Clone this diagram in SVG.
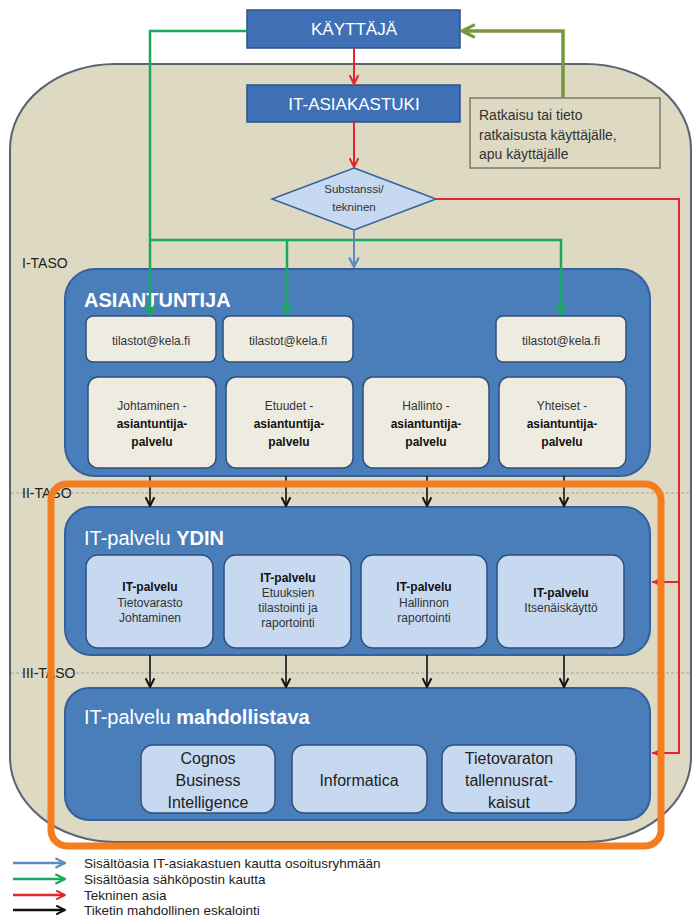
<svg xmlns="http://www.w3.org/2000/svg" width="693" height="917" viewBox="0 0 693 917">
<defs>
<style>
text{font-family:"Liberation Sans",Arial,sans-serif;}
.top{fill:#3f70b6;stroke:#2c5088;stroke-width:1.5;}
.toptxt{fill:#fff;font-size:17px;text-anchor:middle;}
.panel{fill:#4a7ebb;stroke:#35609a;stroke-width:2;}
.ptitle{fill:#fff;font-size:20px;}
.cream{fill:#eeece1;stroke:#2f4f7a;stroke-width:1.5;}
.lblue{fill:#c6d9f1;stroke:#2f4f7a;stroke-width:1.5;}
.t12{font-size:12px;fill:#333;text-anchor:middle;}
.b{font-weight:bold;fill:#111;}
.t16{font-size:16px;fill:#222;text-anchor:middle;}
.tier{font-size:14px;fill:#222;}
.dash{stroke:#a5a5a5;stroke-width:1;stroke-dasharray:3 2;}
.leg{font-size:13.5px;fill:#222;}
.red{stroke:#e3262b;stroke-width:2;fill:none;}
.grn{stroke:#1aa860;stroke-width:2.5;fill:none;}
.olv{stroke:#78963a;stroke-width:3.5;fill:none;}
.blu{stroke:#5d8ac0;stroke-width:2;fill:none;}
.blk{stroke:#111;stroke-width:1.6;fill:none;}
</style>
<marker id="mr" viewBox="0 0 10 10" refX="9" refY="5" markerWidth="11" markerHeight="11" markerUnits="userSpaceOnUse" orient="auto"><path d="M1,1 L9,5 L1,9" fill="none" stroke="#e3262b" stroke-width="1.8"/></marker>
<marker id="mrf" viewBox="0 0 10 10" refX="9" refY="5" markerWidth="10" markerHeight="10" markerUnits="userSpaceOnUse" orient="auto"><path d="M1,1 L9,5 L1,9 Z" fill="#e3262b"/></marker>
<marker id="mg" viewBox="0 0 10 10" refX="9" refY="5" markerWidth="12" markerHeight="12" markerUnits="userSpaceOnUse" orient="auto"><path d="M1,1 L9,5 L1,9" fill="none" stroke="#1aa860" stroke-width="2"/></marker>
<marker id="mo" viewBox="0 0 10 10" refX="9" refY="5" markerWidth="16" markerHeight="16" markerUnits="userSpaceOnUse" orient="auto"><path d="M1,1 L9,5 L1,9" fill="none" stroke="#78963a" stroke-width="2"/></marker>
<marker id="mb" viewBox="0 0 10 10" refX="9" refY="5" markerWidth="12" markerHeight="12" markerUnits="userSpaceOnUse" orient="auto"><path d="M1,1 L9,5 L1,9" fill="none" stroke="#5d8ac0" stroke-width="1.8"/></marker>
<marker id="mk" viewBox="0 0 10 10" refX="9" refY="5" markerWidth="11" markerHeight="11" markerUnits="userSpaceOnUse" orient="auto"><path d="M1,1 L9,5 L1,9" fill="none" stroke="#111" stroke-width="1.8"/></marker>
</defs>

<g id="container">
<rect x="10" y="64" width="681" height="778" rx="105" ry="85" fill="#ddd9c3" stroke="#5a6473" stroke-width="2"/>
<line class="dash" x1="11" y1="493" x2="690" y2="493"/>
<line class="dash" x1="11" y1="673" x2="690" y2="673"/>
<text class="tier" x="22" y="268">I-TASO</text>
<text class="tier" x="22" y="498">II-TASO</text>
<text class="tier" x="22" y="678">III-TASO</text>
</g>

<g id="kayttaja">
<rect class="top" x="247" y="10" width="213" height="38"/>
<text class="toptxt" x="354" y="35">KÄYTTÄJÄ</text>
</g>
<g id="it-asiakastuki">
<rect class="top" x="247" y="85" width="213" height="37"/>
<text class="toptxt" x="354" y="110">IT-ASIAKASTUKI</text>
</g>
<g id="ratkaisu">
<rect x="470" y="98" width="190" height="70" fill="#ddd9c3" stroke="#7f7a66" stroke-width="1.5"/>
<text x="479" y="120" font-size="14" fill="#333">Ratkaisu tai tieto</text>
<text x="479" y="140" font-size="14" fill="#333">ratkaisusta käyttäjälle,</text>
<text x="479" y="159" font-size="14" fill="#333">apu käyttäjälle</text>
</g>
<g id="diamond">
<polygon points="354,168 436,199 354,230 272,199" fill="#c6d9f1" stroke="#35609a" stroke-width="1.5"/>
<text x="354" y="193" font-size="11.5" fill="#333" text-anchor="middle">Substanssi/</text>
<text x="354" y="211" font-size="11.5" fill="#333" text-anchor="middle">tekninen</text>
</g>

<g id="asiantuntija">
<rect class="panel" x="65" y="269" width="585" height="207" rx="30"/>
<text class="ptitle" x="84" y="307" font-weight="bold">ASIANTUNTIJA</text>
<rect class="cream" x="86" y="316" width="130" height="46" rx="7"/>
<text class="t12" x="151" y="345" font-size="13">tilastot@kela.fi</text>
<rect class="cream" x="223" y="316" width="130" height="46" rx="7"/>
<text class="t12" x="288" y="345" font-size="13">tilastot@kela.fi</text>
<rect class="cream" x="496" y="316" width="130" height="46" rx="7"/>
<text class="t12" x="561" y="345" font-size="13">tilastot@kela.fi</text>
<rect class="cream" x="88" y="377" width="128" height="91" rx="10"/>
<text class="t12" x="152" y="410">Johtaminen -</text>
<text class="t12 b" x="152" y="428">asiantuntija-</text>
<text class="t12 b" x="152" y="446">palvelu</text>
<rect class="cream" x="226" y="377" width="127" height="91" rx="10"/>
<text class="t12" x="289" y="410">Etuudet -</text>
<text class="t12 b" x="289" y="428">asiantuntija-</text>
<text class="t12 b" x="289" y="446">palvelu</text>
<rect class="cream" x="363" y="377" width="126" height="91" rx="10"/>
<text class="t12" x="426" y="410">Hallinto -</text>
<text class="t12 b" x="426" y="428">asiantuntija-</text>
<text class="t12 b" x="426" y="446">palvelu</text>
<rect class="cream" x="499" y="377" width="127" height="91" rx="10"/>
<text class="t12" x="562" y="410">Yhteiset -</text>
<text class="t12 b" x="562" y="428">asiantuntija-</text>
<text class="t12 b" x="562" y="446">palvelu</text>
</g>

<g id="ydin">
<rect class="panel" x="65" y="507" width="585" height="148" rx="26"/>
<text class="ptitle" x="84" y="545">IT-palvelu <tspan font-weight="bold">YDIN</tspan></text>
<rect class="lblue" x="86" y="555" width="127" height="93" rx="12"/>
<text class="t12 b" x="150" y="591">IT-palvelu</text>
<text class="t12" x="150" y="607">Tietovarasto</text>
<text class="t12" x="150" y="622">Johtaminen</text>
<rect class="lblue" x="224" y="555" width="127" height="93" rx="12"/>
<text class="t12 b" x="288" y="582">IT-palvelu</text>
<text class="t12" x="288" y="597">Etuuksien</text>
<text class="t12" x="288" y="612">tilastointi ja</text>
<text class="t12" x="288" y="627">raportointi</text>
<rect class="lblue" x="361" y="555" width="126" height="93" rx="12"/>
<text class="t12 b" x="424" y="591">IT-palvelu</text>
<text class="t12" x="424" y="607">Hallinnon</text>
<text class="t12" x="424" y="622">raportointi</text>
<rect class="lblue" x="497" y="555" width="127" height="93" rx="12"/>
<text class="t12 b" x="561" y="597">IT-palvelu</text>
<text class="t12" x="561" y="612">Itsenäiskäyttö</text>
</g>

<g id="mahdollistava">
<rect class="panel" x="65" y="688" width="585" height="132" rx="24"/>
<text class="ptitle" x="84" y="724">IT-palvelu <tspan font-weight="bold">mahdollistava</tspan></text>
<rect class="lblue" x="141" y="745" width="134" height="68" rx="12"/>
<text class="t16" x="208" y="764">Cognos</text>
<text class="t16" x="208" y="786">Business</text>
<text class="t16" x="208" y="808">Intelligence</text>
<rect class="lblue" x="292" y="745" width="135" height="68" rx="12"/>
<text class="t16" x="359" y="786">Informatica</text>
<rect class="lblue" x="442" y="745" width="134" height="68" rx="12"/>
<text class="t16" x="509" y="764">Tietovaraton</text>
<text class="t16" x="509" y="786">tallennusrat-</text>
<text class="t16" x="509" y="808">kaisut</text>
</g>

<g id="connectors">
<path class="red" d="M354,48 V84" marker-end="url(#mr)"/>
<path class="red" d="M354,122 V167" marker-end="url(#mr)"/>
<path class="red" d="M436,199 H679 V753 H652" marker-end="url(#mrf)"/>
<path class="red" d="M679,582 H652" marker-end="url(#mrf)"/>
<path class="olv" d="M563,98 V31 H462" marker-end="url(#mo)"/>
<path class="grn" d="M247,31 H150 V315" marker-end="url(#mg)"/>
<path class="grn" d="M150,240 H561 V314" marker-end="url(#mg)"/>
<path class="grn" d="M287,240 V314" marker-end="url(#mg)"/>
<path class="blu" d="M354,230 V267" marker-end="url(#mb)"/>
<path class="blk" d="M150,476 V506" marker-end="url(#mk)"/>
<path class="blk" d="M286,476 V506" marker-end="url(#mk)"/>
<path class="blk" d="M427,476 V506" marker-end="url(#mk)"/>
<path class="blk" d="M564,476 V506" marker-end="url(#mk)"/>
<path class="blk" d="M150,655 V687" marker-end="url(#mk)"/>
<path class="blk" d="M286,655 V687" marker-end="url(#mk)"/>
<path class="blk" d="M427,655 V687" marker-end="url(#mk)"/>
<path class="blk" d="M564,655 V687" marker-end="url(#mk)"/>
</g>

<g id="highlight">
<rect x="51" y="484" width="610" height="362" rx="16" fill="none" stroke="#f47d20" stroke-width="7"/>
</g>

<g id="legend">
<path d="M13,863 H65" stroke="#5d8ac0" stroke-width="2.5" fill="none" marker-end="url(#mb)"/>
<text class="leg" x="84" y="867.5">Sisältöasia IT-asiakastuen kautta osoitusryhmään</text>
<path d="M13,879 H65" stroke="#1aa860" stroke-width="2.5" fill="none" marker-end="url(#mg)"/>
<text class="leg" x="84" y="883.5">Sisältöasia sähköpostin kautta</text>
<path d="M13,895 H65" stroke="#e3262b" stroke-width="2.5" fill="none" marker-end="url(#mr)"/>
<text class="leg" x="84" y="899.5">Tekninen asia</text>
<path d="M13,910 H65" stroke="#111" stroke-width="2.5" fill="none" marker-end="url(#mk)"/>
<text class="leg" x="84" y="914.5">Tiketin mahdollinen eskalointi</text>
</g>
</svg>
